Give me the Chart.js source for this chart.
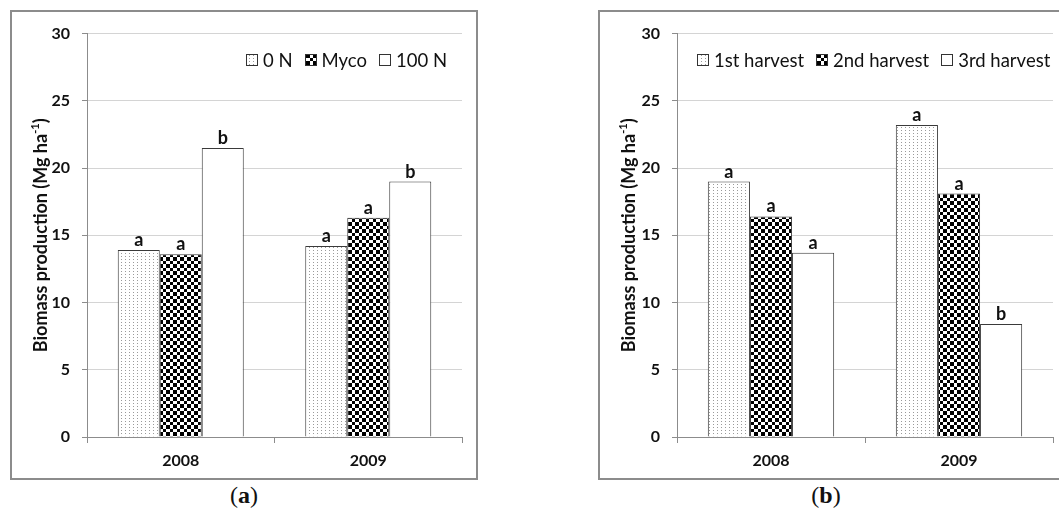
<!DOCTYPE html>
<html>
<head>
<meta charset="utf-8">
<script src="https://cdn.jsdelivr.net/npm/chart.js@4"></script>
<style>
  html, body { margin: 0; padding: 0; background: #fff; }
  body { width: 1059px; height: 515px; overflow: hidden; position: relative; }
  .panel { position: absolute; top: 10px; height: 466px; border: 2px solid #8c8c8c; background: #fff; }
  #pa { left: 10px; width: 464px; }
  #pb { left: 598px; width: 466px; }
  .panel canvas { position: absolute; left: 0; top: 0; }
  .cap { position: absolute; top: 482px; width: 60px; text-align: center;
         font: 24px "Liberation Serif", "DejaVu Serif", serif; color: #111; }
</style>
</head>
<body>
<div class="panel" id="pa"><canvas id="ca"></canvas></div>
<div class="panel" id="pb"><canvas id="cb"></canvas></div>
<div class="cap" style="left:214px">(<b>a</b>)</div>
<div class="cap" style="left:796px">(<b>b</b>)</div>

<script>
// ---- data ----
const years = ['2008', '2009'];
const yTicks = [0, 5, 10, 15, 20, 25, 30];

// (a) fertilisation treatments
const treatNames = ['0 N', 'Myco', '100 N'];
const zeroN = [13.9, 14.2];
const myco = [13.6, 16.3];
const n100 = [21.5, 19.0];
const zeroNLetters = ['a', 'a'];
const mycoLetters = ['a', 'a'];
const n100Letters = ['b', 'b'];

// (b) harvest times
const harvestNames = ['1st harvest', '2nd harvest', '3rd harvest'];
const harvest1 = [19.0, 23.2];
const harvest2 = [16.4, 18.1];
const harvest3 = [13.7, 8.4];
const harvest1Letters = ['a', 'a'];
const harvest2Letters = ['a', 'a'];
const harvest3Letters = ['a', 'b'];

const yTitle = 'Biomass production (Mg ha';
const ySup = '-1';

// ---- fill patterns ----
function dotPattern(ctx) {
  const c = document.createElement('canvas');
  c.width = 4; c.height = 3;
  const g = c.getContext('2d');
  g.fillStyle = '#ffffff'; g.fillRect(0, 0, 4, 3);
  g.fillStyle = '#9a9a9a'; g.fillRect(1, 1, 1, 1);
  return ctx.createPattern(c, 'repeat');
}
function checkerPattern(ctx) {
  const c = document.createElement('canvas');
  c.width = 7; c.height = 7;
  const g = c.getContext('2d');
  g.fillStyle = '#ffffff'; g.fillRect(0, 0, 7, 7);
  g.fillStyle = '#000000';
  g.fillRect(0, 0, 4, 4);
  g.fillRect(4, 4, 3, 3);
  return ctx.createPattern(c, 'repeat');
}

const FONT = 'Lato, "Open Sans", "Liberation Sans", sans-serif';

// letters of significance above each bar
const letterPlugin = {
  id: 'sigLetters',
  afterDatasetsDraw(chart) {
    const ctx = chart.ctx;
    ctx.save();
    ctx.font = 'bold 18px ' + FONT;
    ctx.fillStyle = '#111';
    ctx.textAlign = 'center';
    ctx.textBaseline = 'alphabetic';
    chart.data.datasets.forEach((ds, i) => {
      const meta = chart.getDatasetMeta(i);
      meta.data.forEach((bar, j) => {
        ctx.fillText(ds.letters[j], bar.x, bar.y - 4);
      });
    });
    ctx.restore();
  }
};

// legend drawn inside the plot area, right-aligned
const innerLegend = {
  id: 'innerLegend',
  afterDraw(chart, args, opts) {
    const ctx = chart.ctx;
    const area = chart.chartArea;
    ctx.save();
    ctx.font = '18.5px ' + FONT;
    ctx.textBaseline = 'middle';
    ctx.textAlign = 'left';
    const box = 12, gapText = 5, gapItem = 12;
    const items = chart.data.datasets.map(ds => ({ label: ds.label, fill: ds.backgroundColor, w: ctx.measureText(ds.label).width }));
    let total = 0;
    items.forEach((it, k) => { total += box + gapText + it.w + (k < items.length - 1 ? gapItem : 0); });
    let x = Math.round(area.right - opts.rightInset - total);
    const y = opts.y;
    items.forEach(it => {
      const bx = Math.round(x), by = Math.round(y - box / 2);
      ctx.fillStyle = it.fill;
      ctx.fillRect(bx, by, box, box);
      ctx.strokeStyle = '#333';
      ctx.lineWidth = 1;
      ctx.strokeRect(bx + 0.5, by + 0.5, box - 1, box - 1);
      ctx.fillStyle = '#111';
      ctx.fillText(it.label, x + box + gapText, y + 1);
      x += box + gapText + it.w + gapItem;
    });
    ctx.restore();
  }
};

// rotated y-axis title with superscript
const yTitlePlugin = {
  id: 'yTitle',
  afterDraw(chart, args, opts) {
    const ctx = chart.ctx;
    const area = chart.chartArea;
    ctx.save();
    ctx.translate(opts.x, (area.top + area.bottom) / 2);
    ctx.rotate(-Math.PI / 2);
    ctx.fillStyle = '#111';
    ctx.textBaseline = 'middle';
    ctx.textAlign = 'left';
    ctx.font = 'bold 18px ' + FONT;
    const w1 = ctx.measureText(yTitle).width;
    ctx.font = 'bold 11px ' + FONT;
    const w2 = ctx.measureText(ySup).width;
    ctx.font = 'bold 18px ' + FONT;
    const w3 = ctx.measureText(')').width;
    let x = -(w1 + w2 + w3) / 2;
    ctx.fillText(yTitle, x, 1);
    x += w1;
    ctx.font = 'bold 11px ' + FONT;
    ctx.fillText(ySup, x, -5);
    x += w2;
    ctx.font = 'bold 18px ' + FONT;
    ctx.fillText(')', x, 1);
    ctx.restore();
  }
};

function makeChart(canvasId, names, series, letters, legendInset, padRight) {
  const canvas = document.getElementById(canvasId);
  const ctx = canvas.getContext('2d');
  const fills = [dotPattern(ctx), checkerPattern(ctx), '#ffffff'];
  const datasets = series.map((vals, k) => ({
    label: names[k],
    data: vals,
    letters: letters[k],
    backgroundColor: fills[k],
    borderColor: '#3a3a3a',
    borderWidth: 1,
    barPercentage: 1.0,
    categoryPercentage: 0.672
  }));
  return new Chart(ctx, {
    type: 'bar',
    data: { labels: years, datasets },
    plugins: [letterPlugin, innerLegend, yTitlePlugin],
    options: {
      responsive: true,
      maintainAspectRatio: false,
      animation: false,
      layout: { padding: { left: 0, top: 17, right: padRight, bottom: 0 } },
      plugins: {
        legend: { display: false },
        tooltip: { enabled: false },
        innerLegend: { rightInset: legendInset, y: 48 },
        yTitle: { x: 28 }
      },
      scales: {
        x: {
          grid: { display: true, drawOnChartArea: false, drawTicks: true, tickLength: 6, color: '#8c8c8c', tickColor: '#8c8c8c' },
          border: { display: true, color: '#8c8c8c', width: 1 },
          ticks: { color: '#111', font: { family: FONT, size: 16, weight: 'bold' }, padding: 8 },
          afterFit(scale) { scale.height = 41; }
        },
        y: {
          min: 0, max: 30,
          afterBuildTicks(scale) { scale.ticks = yTicks.map(v => ({ value: v })); },
          grid: { color: '#d4d4d4', tickLength: 5, tickColor: '#8c8c8c' },
          border: { display: true, color: '#8c8c8c', width: 1 },
          ticks: { color: '#111', font: { family: FONT, size: 16, weight: 'bold' }, padding: 12 },
          afterFit(scale) { scale.width = canvasId === 'ca' ? 75 : 77; }
        }
      }
    }
  });
}

makeChart('ca', treatNames, [zeroN, myco, n100], [zeroNLetters, mycoLetters, n100Letters], 15, 14);
makeChart('cb', harvestNames, [harvest1, harvest2, harvest3], [harvest1Letters, harvest2Letters, harvest3Letters], 3, 13);
</script>
</body>
</html>
